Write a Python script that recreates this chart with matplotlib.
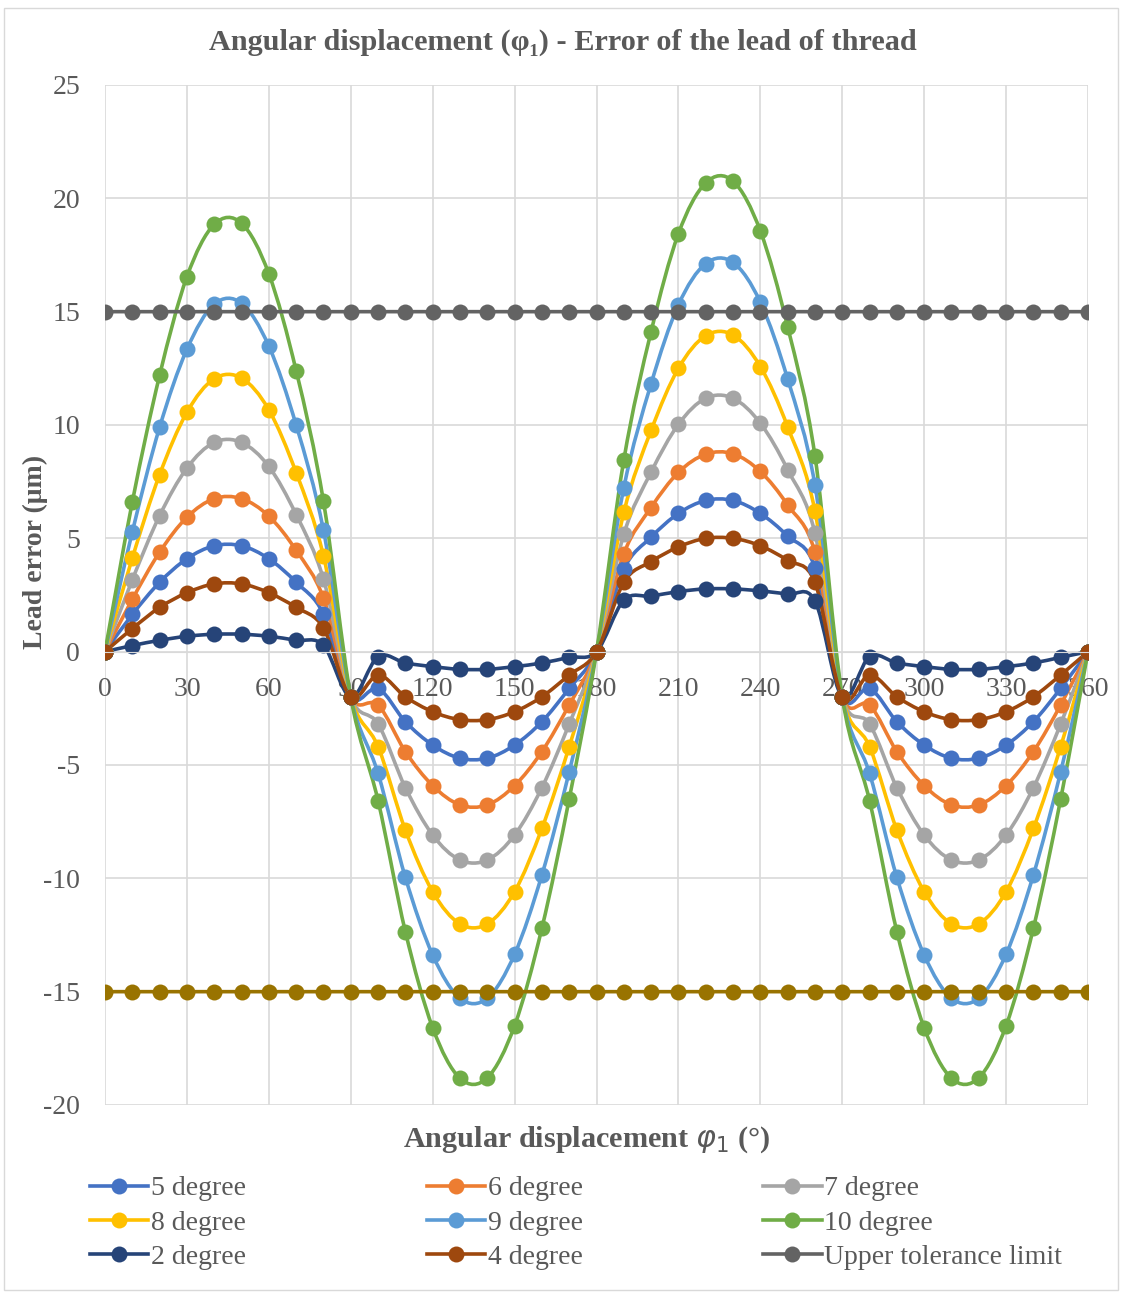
import numpy as np
import matplotlib
matplotlib.use("Agg")
import matplotlib.pyplot as plt
from matplotlib.path import Path
from matplotlib.patches import PathPatch, Rectangle
from matplotlib.lines import Line2D

plt.rcParams['font.family'] = ['Liberation Serif', 'DejaVu Serif']
plt.rcParams['axes.unicode_minus'] = False

angles = list(range(0, 361, 10))

# values per lobe: 10..80, 100..170, 190..260, 280..350  (0/90/180/270/360 fixed)
deg5 = [0, 1.64, 3.06, 4.1, 4.67, 4.67, 4.1, 3.06, 1.66, -2,
        -1.62, -3.09, -4.12, -4.7, -4.7, -4.12, -3.09, -1.62, 0,
        3.64, 5.05, 6.1, 6.67, 6.67, 6.1, 5.1, 3.71, -2,
        -1.62, -3.09, -4.12, -4.7, -4.7, -4.12, -3.09, -1.62, 0]
deg6 = [0, 2.31, 4.39, 5.93, 6.75, 6.75, 5.98, 4.47, 2.37, -2,
        -2.35, -4.41, -5.91, -6.76, -6.76, -5.91, -4.41, -2.35, 0,
        4.32, 6.36, 7.91, 8.71, 8.73, 7.95, 6.47, 4.39, -2,
        -2.35, -4.41, -5.91, -6.76, -6.76, -5.91, -4.41, -2.35, 0]
deg7 = [0, 3.17, 6.0, 8.1, 9.23, 9.23, 8.17, 6.05, 3.21, -2,
        -3.19, -6.0, -8.09, -9.19, -9.19, -8.09, -6.0, -3.19, 0,
        5.18, 7.92, 10.03, 11.18, 11.18, 10.08, 8.03, 5.23, -2,
        -3.19, -6.0, -8.09, -9.19, -9.19, -8.09, -6.0, -3.19, 0]
deg8 = [0, 4.13, 7.81, 10.56, 12.04, 12.07, 10.67, 7.9, 4.23, -2,
        -4.19, -7.87, -10.59, -12.01, -12.01, -10.59, -7.8, -4.19, 0,
        6.14, 9.76, 12.5, 13.94, 13.97, 12.58, 9.92, 6.21, -2,
        -4.19, -7.87, -10.59, -12.01, -12.01, -10.59, -7.8, -4.19, 0]
deg9 = [0, 5.28, 9.9, 13.34, 15.33, 15.37, 13.48, 10.0, 5.36, -2,
        -5.37, -9.96, -13.38, -15.29, -15.29, -13.35, -9.85, -5.3, 0,
        7.23, 11.82, 15.3, 17.12, 17.17, 15.42, 12.03, 7.35, -2,
        -5.37, -9.96, -13.38, -15.29, -15.29, -13.35, -9.85, -5.3, 0]
deg10 = [0, 6.6, 12.19, 16.54, 18.85, 18.9, 16.67, 12.4, 6.64, -2,
         -6.57, -12.35, -16.59, -18.82, -18.8, -16.5, -12.2, -6.5, 0,
         8.45, 14.12, 18.44, 20.68, 20.76, 18.56, 14.33, 8.64, -2,
         -6.57, -12.35, -16.59, -18.82, -18.8, -16.5, -12.2, -6.5, 0]
deg2 = [0, 0.27, 0.5, 0.68, 0.77, 0.77, 0.68, 0.5, 0.28, -2,
        -0.22, -0.5, -0.66, -0.78, -0.78, -0.66, -0.5, -0.25, 0,
        2.27, 2.45, 2.65, 2.77, 2.77, 2.68, 2.53, 2.24, -2,
        -0.22, -0.5, -0.66, -0.78, -0.78, -0.66, -0.5, -0.25, 0]
deg4 = [0, 1.02, 1.95, 2.6, 2.99, 2.99, 2.6, 1.95, 1.05, -2,
        -1.03, -1.99, -2.65, -3.0, -3.0, -2.65, -1.99, -1.03, 0,
        3.06, 3.97, 4.62, 5.0, 5.0, 4.67, 4.02, 3.06, -2,
        -1.03, -1.99, -2.65, -3.0, -3.0, -2.65, -1.99, -1.03, 0]
upper_tol = [15] * 37
lower_tol = [-15] * 37

series_names = ["5 degree", "6 degree", "7 degree", "8 degree", "9 degree",
                "10 degree", "2 degree", "4 degree", "Upper tolerance limit",
                "Lower tolerance limit"]
series_vals = [deg5, deg6, deg7, deg8, deg9, deg10, deg2, deg4, upper_tol, lower_tol]
colors = ["#4472C4", "#ED7D31", "#A5A5A5", "#FFC000", "#5B9BD5", "#70AD47",
          "#264478", "#9E480E", "#636363", "#997300"]

x_ticks = list(range(0, 361, 30))
y_ticks = list(range(-20, 26, 5))

txt = "#595959"


def smooth_path(xs, ys):
    # Excel-like smoothed line: cubic bezier through the points
    p = np.column_stack([xs, ys]).astype(float)
    n = len(p)
    verts = [p[0]]
    codes = [Path.MOVETO]
    for i in range(n - 1):
        p0 = p[i - 1] if i > 0 else p[i]
        p3 = p[i + 2] if i + 2 < n else p[i + 1]
        c1 = p[i] + (p[i + 1] - p0) / 6.0
        c2 = p[i + 1] - (p3 - p[i]) / 6.0
        verts += [c1, c2, p[i + 1]]
        codes += [Path.CURVE4] * 3
    return Path(verts, codes)


fig = plt.figure(figsize=(11.22, 12.92), dpi=100)
ax = fig.add_axes([105 / 1122, 1 - 1105 / 1292, 983 / 1122, 1020 / 1292])

fig.patches.append(Rectangle((4 / 1122, 2 / 1292), 1114 / 1122, 1282 / 1292,
                             transform=fig.transFigure, fill=False,
                             edgecolor="#D9D9D9", lw=1))

for name, vals, c in zip(series_names, series_vals, colors):
    ax.add_patch(PathPatch(smooth_path(angles, vals), facecolor="none",
                           edgecolor=c, lw=2.6, capstyle="round"))
    ax.plot(angles, vals, linestyle="none", marker="o", markersize=11.5,
            color=c, markeredgewidth=0)

ax.set_xlim(0, 360)
ax.set_ylim(-20, 25)
ax.set_xticks(x_ticks)
ax.set_yticks(y_ticks)
ax.grid(True, color="#D9D9D9", lw=1.2)
ax.set_axisbelow(True)
for s in ["top", "right", "left"]:
    ax.spines[s].set_visible(False)
ax.spines["bottom"].set_position(("data", 0))
ax.spines["bottom"].set_color("#D9D9D9")
ax.tick_params(length=0, labelsize=20, labelcolor=txt)
ax.tick_params(axis="y", pad=18)
ax.tick_params(axis="x", pad=18)

fig.text(563 / 1122, 1 - 42 / 1292,
         "Angular displacement (\u03c6\u2081) - Error of the lead of thread",
         ha="center", va="center", fontsize=21.8, fontweight="bold", color=txt)
fig.text(587 / 1122, 1 - 1140 / 1292, "Angular displacement $\\varphi_1$ (\u00b0)",
         ha="center", va="center", fontsize=21.8, fontweight="bold", color=txt)
fig.text(35 / 1122, 1 - 552 / 1292, "Lead error (\u03bcm)", rotation=90,
         ha="center", va="center", fontsize=20, fontweight="bold", color=txt)

# legend, filled row by row like the original
order = [0, 3, 6, 1, 4, 7, 2, 5, 8]
handles = [Line2D([], [], color=colors[i], lw=2.6, marker="o", markersize=11.5,
                  markeredgewidth=0) for i in order]
labels = [series_names[i] for i in order]
fig.legend(handles, labels, ncol=3, loc="upper left",
           bbox_to_anchor=(90 / 1122, 1 - 1176 / 1292), frameon=False,
           fontsize=20, labelcolor=txt, handlelength=2.1, handletextpad=0.1,
           columnspacing=6.5, labelspacing=0.31, borderaxespad=0, borderpad=0)

fig.savefig("out.png", dpi=100)
